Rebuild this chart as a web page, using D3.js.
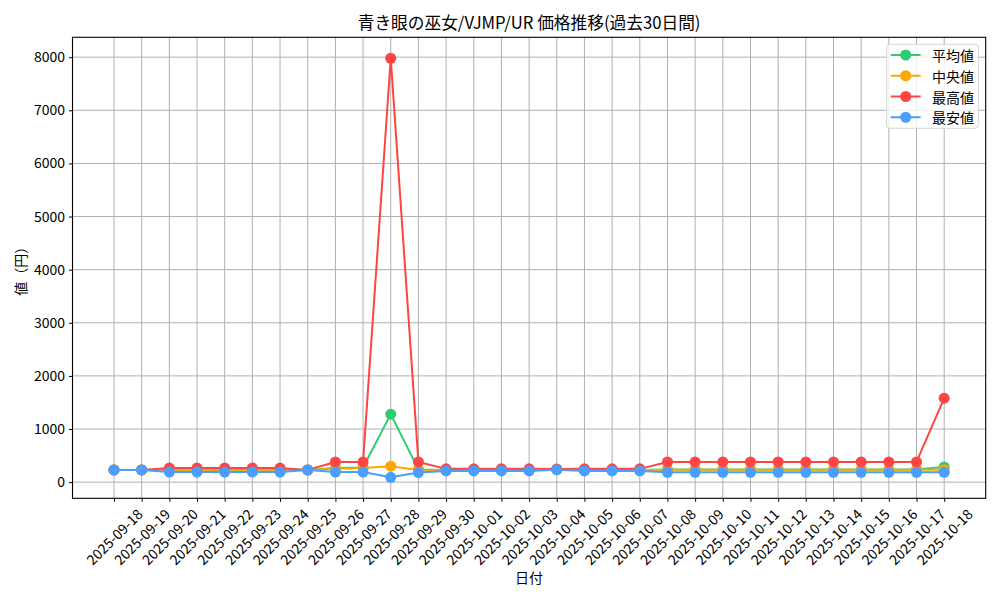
<!DOCTYPE html>
<html>
<head>
<meta charset="utf-8">
<script src="https://cdn.jsdelivr.net/npm/d3@7"></script>
<style>
  body { margin: 0; background: #fff; }
  svg { display: block; }
  text { font-family: "Liberation Sans Narrow", "Noto Sans CJK JP", sans-serif; fill: #000; }
</style>
</head>
<body>
<svg id="chart" width="1000" height="600"></svg>
<script>
const dates = [
  "2025-09-18","2025-09-19","2025-09-20","2025-09-21","2025-09-22","2025-09-23","2025-09-24",
  "2025-09-25","2025-09-26","2025-09-27","2025-09-28","2025-09-29","2025-09-30","2025-10-01",
  "2025-10-02","2025-10-03","2025-10-04","2025-10-05","2025-10-06","2025-10-07","2025-10-08",
  "2025-10-09","2025-10-10","2025-10-11","2025-10-12","2025-10-13","2025-10-14","2025-10-15",
  "2025-10-16","2025-10-17","2025-10-18"
];
const avgValues = [230,230,235,235,235,235,235,230,265,275,1280,240,230,230,230,230,240,230,230,230,240,240,240,240,240,240,240,240,240,240,285];
const medianValues = [230,230,235,235,235,235,235,230,250,265,300,230,225,225,225,225,235,225,225,225,235,235,235,235,235,235,235,235,235,235,235];
const maxValues = [230,230,265,265,265,265,265,230,380,380,7980,380,250,250,250,250,245,250,250,250,380,380,380,380,380,380,380,380,380,380,1580];
const minValues = [230,230,190,190,190,190,190,230,190,190,90,180,210,210,210,210,235,210,210,210,185,185,185,185,185,185,185,185,185,185,185];
const yTicks = [0,1000,2000,3000,4000,5000,6000,7000,8000];
const seriesNames = ["平均値","中央値","最高値","最安値"];
const seriesColors = ["#2ecc71","#ffa500","#ff4444","#4a9eff"];
const titleText = "青き眼の巫女/VJMP/UR 価格推移(過去30日間)";
const xLabel = "日付";
const yLabel = "値（円）";

const series = [avgValues, medianValues, maxValues, minValues].map((v, i) => ({
  name: seriesNames[i], color: seriesColors[i], values: v
}));

const svg = d3.select("#chart");
const L = 72.5, T = 37.3, R = 985.7, B = 498.3;

const n = dates.length;
const xm = (n - 1) * 0.05;
const x = d3.scaleLinear().domain([-xm, n - 1 + xm]).range([L, R]);
const all = series.flatMap(s => s.values);
const ymin = d3.min(all), ymax = d3.max(all);
const ym = (ymax - ymin) * 0.05;
const y = d3.scaleLinear().domain([ymin - ym, ymax + ym]).range([B, T]);

// grid
const grid = svg.append("g");
grid.selectAll("line.vx").data(dates).join("line")
  .attr("x1", (d, i) => x(i)).attr("x2", (d, i) => x(i))
  .attr("y1", T).attr("y2", B)
  .attr("stroke", "#b0b0b0").attr("stroke-width", 1);
grid.selectAll("line.hy").data(yTicks).join("line")
  .attr("x1", L).attr("x2", R)
  .attr("y1", d => y(d)).attr("y2", d => y(d))
  .attr("stroke", "#b0b0b0").attr("stroke-width", 1);

// lines and markers
const line = d3.line().x((d, i) => x(i)).y(d => y(d));
series.forEach(s => {
  const g = svg.append("g");
  g.append("path").attr("d", line(s.values))
    .attr("fill", "none").attr("stroke", s.color).attr("stroke-width", 2)
    .attr("stroke-linejoin", "round");
  g.selectAll("circle").data(s.values).join("circle")
    .attr("cx", (d, i) => x(i)).attr("cy", d => y(d)).attr("r", 5.5)
    .attr("fill", s.color);
});

// frame
svg.append("rect").attr("x", L).attr("y", T).attr("width", R - L).attr("height", B - T)
  .attr("fill", "none").attr("stroke", "#000").attr("stroke-width", 1.1);

// y axis
const yAxis = d3.axisLeft(y).tickValues(yTicks).tickSize(3.5).tickPadding(4).tickFormat(d3.format("d"));
const yg = svg.append("g").attr("transform", `translate(${L},0)`).call(yAxis);
yg.select(".domain").remove();
yg.selectAll("text").style("font-size", "14px").style("font-family", null);
yg.selectAll("line").attr("stroke", "#000");

// x axis
const xAxis = d3.axisBottom(x).tickValues(d3.range(n)).tickSize(3.5).tickFormat(() => "");
const xg = svg.append("g").attr("transform", `translate(0,${B})`).call(xAxis);
xg.select(".domain").remove();
xg.selectAll("line").attr("stroke", "#000");

const fs = 14;
dates.forEach((d, i) => {
  const t = svg.append("text").text(d).style("font-size", fs + "px")
    .attr("text-anchor", "middle").attr("dominant-baseline", "central");
  const w = t.node().getComputedTextLength();
  const hb = (w + fs * 0.95) * Math.SQRT1_2;
  t.attr("transform", `translate(${x(i)},${B + 8 + hb / 2}) rotate(-45)`);
});

// title and labels
svg.append("text").attr("x", (L + R) / 2).attr("y", 29).attr("text-anchor", "middle")
  .style("font-size", "16.7px").text(titleText);
svg.append("text").attr("x", (L + R) / 2).attr("y", 583).attr("text-anchor", "middle")
  .style("font-size", "14px").text(xLabel);
svg.append("text").attr("transform", `translate(26,${(T + B) / 2}) rotate(-90)`)
  .attr("text-anchor", "middle").style("font-size", "14px").text(yLabel);

// legend
const lg = svg.append("g");
lg.append("rect").attr("x", 886.7).attr("y", 44.3).attr("width", 91.6).attr("height", 84)
  .attr("rx", 3).attr("fill", "#fff").attr("fill-opacity", 0.8)
  .attr("stroke", "#d5d5d5").attr("stroke-width", 1);
series.forEach((s, i) => {
  const cy = 55 + i * 20.75;
  lg.append("line").attr("x1", 890.7).attr("x2", 920.7).attr("y1", cy).attr("y2", cy)
    .attr("stroke", s.color).attr("stroke-width", 2);
  lg.append("circle").attr("cx", 905.7).attr("cy", cy).attr("r", 5.5).attr("fill", s.color);
  lg.append("text").attr("x", 932).attr("y", cy).attr("dominant-baseline", "central")
    .style("font-size", "14px").text(s.name);
});
</script>
</body>
</html>
